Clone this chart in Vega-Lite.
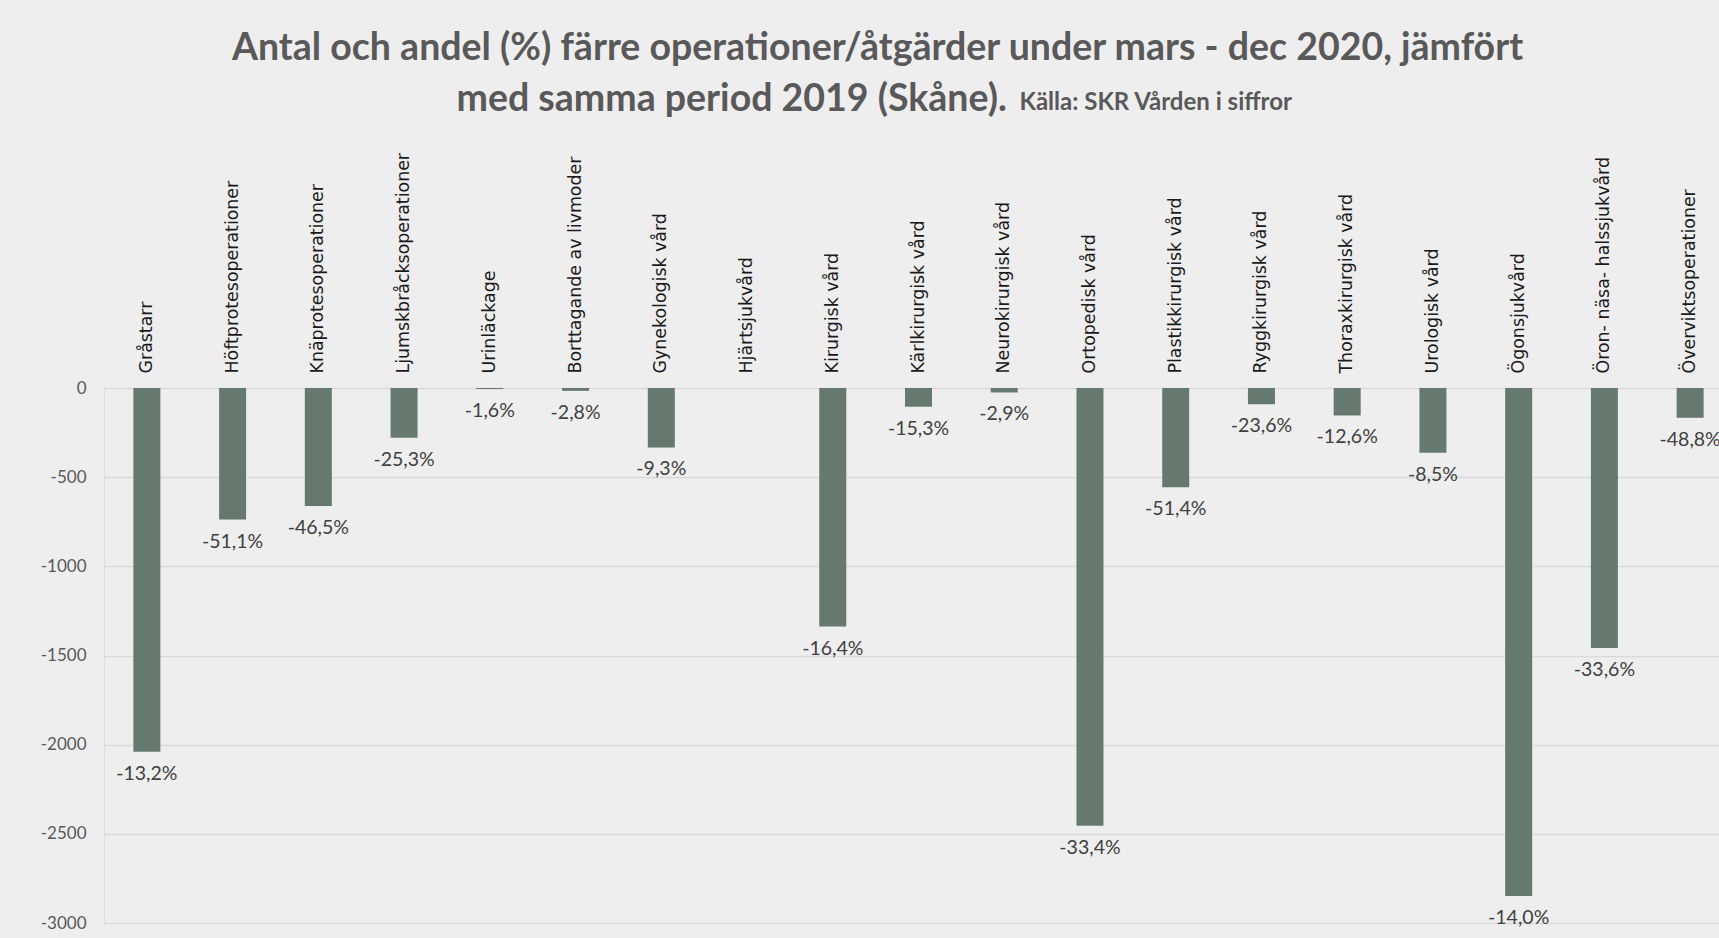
{
  "$schema": "https://vega.github.io/schema/vega-lite/v6.json",
  "autosize": {"type": "none"},
  "padding": {"left": 104, "top": 388, "right": 0, "bottom": 15},
  "width": 1615,
  "height": 535,
  "background": "#eeeeee",
  "title": {
    "text": "Antal och andel (%) färre operationer/åtgärder under mars - dec 2020, jämfört",
    "font": "Lato",
    "fontSize": 37.5,
    "fontWeight": "bold",
    "color": "#595959",
    "anchor": "middle",
    "frame": "group",
    "dx": -34,
    "dy": -13,
    "offset": 0
  },
  "data": {
    "values": [
      {"kategori": "Gråstarr", "antal": -2040, "andel": "-13,2%"},
      {"kategori": "Höftprotesoperationer", "antal": -738, "andel": "-51,1%"},
      {"kategori": "Knäprotesoperationer", "antal": -662, "andel": "-46,5%"},
      {"kategori": "Ljumskbråcksoperationer", "antal": -279, "andel": "-25,3%"},
      {"kategori": "Urinläckage", "antal": -6, "andel": "-1,6%"},
      {"kategori": "Borttagande av livmoder", "antal": -16, "andel": "-2,8%"},
      {"kategori": "Gynekologisk vård", "antal": -333, "andel": "-9,3%"},
      {"kategori": "Hjärtsjukvård", "antal": null, "andel": null},
      {"kategori": "Kirurgisk vård", "antal": -1338, "andel": "-16,4%"},
      {"kategori": "Kärlkirurgisk vård", "antal": -105, "andel": "-15,3%"},
      {"kategori": "Neurokirurgisk vård", "antal": -25, "andel": "-2,9%"},
      {"kategori": "Ortopedisk vård", "antal": -2455, "andel": "-33,4%"},
      {"kategori": "Plastikkirurgisk vård", "antal": -556, "andel": "-51,4%"},
      {"kategori": "Ryggkirurgisk vård", "antal": -91, "andel": "-23,6%"},
      {"kategori": "Thoraxkirurgisk vård", "antal": -154, "andel": "-12,6%"},
      {"kategori": "Urologisk vård", "antal": -363, "andel": "-8,5%"},
      {"kategori": "Ögonsjukvård", "antal": -2849, "andel": "-14,0%"},
      {"kategori": "Öron- näsa- halssjukvård", "antal": -1458, "andel": "-33,6%"},
      {"kategori": "Överviktsoperationer", "antal": -167, "andel": "-48,8%"}
    ]
  },
  "encoding": {
    "x": {
      "field": "kategori",
      "type": "nominal",
      "sort": null,
      "scale": {
        "domain": ["Gråstarr", "Höftprotesoperationer", "Knäprotesoperationer", "Ljumskbråcksoperationer", "Urinläckage", "Borttagande av livmoder", "Gynekologisk vård", "Hjärtsjukvård", "Kirurgisk vård", "Kärlkirurgisk vård", "Neurokirurgisk vård", "Ortopedisk vård", "Plastikkirurgisk vård", "Ryggkirurgisk vård", "Thoraxkirurgisk vård", "Urologisk vård", "Ögonsjukvård", "Öron- näsa- halssjukvård", "Överviktsoperationer"],
        "range": [0, 1629],
        "paddingInner": 0.685,
        "paddingOuter": 0.3425
      },
      "axis": {
        "orient": "top",
        "labelAngle": -90,
        "labelAlign": "left",
        "labelBaseline": "middle",
        "labelPadding": 15,
        "labelFont": "DejaVu Sans",
        "labelFontSize": 17.4,
        "labelColor": "#1a1a1a",
        "labelLimit": 0,
        "labelOverlap": false,
        "ticks": false,
        "domain": false,
        "grid": false,
        "title": "med samma period 2019 (Skåne).",
        "titleFont": "Lato",
        "titleFontSize": 37.5,
        "titleFontWeight": "bold",
        "titleColor": "#595959",
        "titleAngle": 0,
        "titleAlign": "left",
        "titleBaseline": "alphabetic",
        "titleAnchor": null,
        "titleX": 352,
        "titleY": -278
      }
    }
  },
  "layer": [
    {
      "mark": {"type": "bar", "color": "#65796f"},
      "encoding": {
        "y": {
          "field": "antal",
          "type": "quantitative",
          "scale": {"domain": [-3000, 0], "nice": false},
          "axis": {
            "values": [0, -500, -1000, -1500, -2000, -2500, -3000],
            "labelExpr": "'' + datum.value",
            "labelFont": "Lato",
            "labelFontSize": 17,
            "labelColor": "#595959",
            "labelPadding": 18,
            "ticks": false,
            "domain": false,
            "grid": true,
            "gridColor": "#d9d9d9",
            "gridWidth": 1.5,
            "title": "Källa: SKR Vården i siffror",
            "titleFont": "Lato",
            "titleFontSize": 24,
            "titleFontWeight": "bold",
            "titleColor": "#595959",
            "titleAngle": 0,
            "titleAlign": "left",
            "titleBaseline": "alphabetic",
            "titleAnchor": null,
            "titleX": 915,
            "titleY": -279
          }
        }
      }
    },
    {
      "mark": {"type": "text", "baseline": "middle", "align": "center", "dy": 22, "font": "Lato", "fontSize": 19.5, "color": "#404040"},
      "encoding": {
        "y": {"field": "antal", "type": "quantitative"},
        "text": {"field": "andel", "type": "nominal"}
      }
    }
  ]
}
